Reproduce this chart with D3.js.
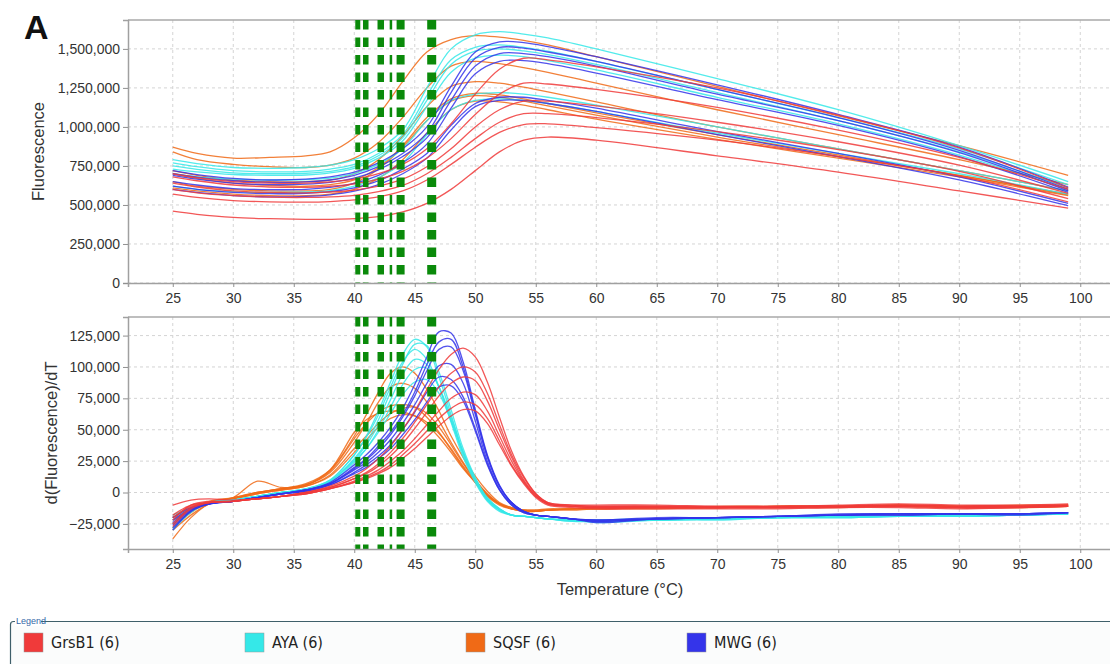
<!DOCTYPE html>
<html>
<head>
<meta charset="utf-8">
<script src="https://cdn.jsdelivr.net/npm/d3@7"></script>
<style>
  body { margin: 0; background: #fff; }
  svg { display: block; font-family: "Liberation Sans", Arial, sans-serif; }
</style>
</head>
<body>
<script>
var tempFluor = [25, 27, 30, 33, 36, 38, 40, 42, 44, 46, 48, 50, 52, 54, 56, 60, 70, 80, 90, 99];
var tempDeriv = [25, 26.5, 28, 30, 32, 34, 36, 38, 40, 41, 42, 43, 44, 45, 46, 47, 48, 49, 50, 51, 52, 53, 54, 55, 56, 58, 60, 65, 70, 75, 80, 85, 90, 95, 99];

// fluorescence, thousands
var sqsfFluor = [
  [870, 830, 800, 805, 815, 840, 930, 1080, 1290, 1480, 1560, 1585, 1575, 1555, 1525, 1450, 1260, 1070, 880, 690],
  [840, 790, 760, 745, 740, 755, 800, 900, 1060, 1250, 1390, 1420, 1405, 1380, 1350, 1280, 1110, 950, 790, 630],
  [720, 690, 660, 650, 650, 660, 700, 790, 940, 1130, 1260, 1290, 1280, 1255, 1225, 1160, 1000, 860, 720, 590],
  [700, 670, 640, 625, 620, 630, 660, 740, 880, 1060, 1180, 1215, 1205, 1180, 1150, 1090, 950, 820, 690, 570],
  [650, 620, 600, 590, 590, 600, 640, 730, 870, 1040, 1165, 1200, 1190, 1165, 1135, 1075, 935, 810, 690, 565],
  [610, 590, 570, 560, 560, 570, 600, 670, 790, 960, 1110, 1165, 1160, 1140, 1110, 1050, 920, 800, 680, 560]
];
var ayaFluor = [
  [790, 765, 740, 735, 740, 755, 790, 860, 980, 1250, 1500, 1590, 1610, 1595, 1570, 1500, 1310, 1110, 880, 650],
  [770, 745, 720, 712, 715, 730, 760, 830, 950, 1200, 1430, 1510, 1525, 1510, 1485, 1420, 1240, 1060, 860, 630],
  [750, 728, 705, 700, 703, 715, 745, 815, 930, 1170, 1400, 1485, 1500, 1487, 1463, 1400, 1220, 1040, 840, 610],
  [730, 712, 695, 690, 692, 705, 735, 800, 910, 1130, 1350, 1440, 1460, 1450, 1425, 1365, 1190, 1020, 820, 600],
  [700, 680, 665, 660, 662, 672, 700, 760, 860, 1040, 1170, 1210, 1220, 1210, 1190, 1140, 1000, 860, 720, 590],
  [620, 600, 585, 580, 583, 592, 620, 675, 770, 950, 1110, 1170, 1180, 1170, 1150, 1100, 960, 830, 700, 570]
];
var mwgFluor = [
  [720, 695, 670, 660, 665, 680, 710, 770, 860, 1000, 1260, 1480, 1545, 1540, 1515, 1450, 1270, 1080, 870, 615],
  [700, 678, 655, 645, 648, 660, 690, 745, 830, 960, 1220, 1440, 1510, 1505, 1480, 1420, 1240, 1060, 850, 600],
  [690, 665, 640, 630, 633, 645, 672, 725, 810, 930, 1170, 1390, 1470, 1470, 1450, 1390, 1210, 1040, 835, 590],
  [650, 628, 605, 598, 600, 612, 638, 690, 770, 890, 1120, 1340, 1420, 1425, 1405, 1345, 1175, 1010, 810, 580],
  [620, 600, 580, 572, 575, 585, 610, 655, 730, 830, 1010, 1150, 1190, 1190, 1170, 1120, 970, 830, 680, 510],
  [600, 580, 560, 552, 555, 565, 588, 630, 700, 800, 980, 1130, 1170, 1170, 1150, 1100, 950, 810, 660, 495]
];
var grsb1Fluor = [
  [700, 675, 650, 640, 640, 648, 665, 700, 760, 860, 1020, 1210, 1370, 1440, 1430, 1385, 1250, 1075, 865, 610],
  [680, 655, 628, 615, 613, 620, 635, 665, 715, 800, 925, 1080, 1210, 1280, 1275, 1240, 1125, 980, 805, 600],
  [640, 615, 590, 580, 578, 583, 595, 620, 665, 745, 860, 1000, 1110, 1165, 1165, 1135, 1030, 905, 755, 575],
  [600, 578, 560, 550, 548, 552, 562, 585, 625, 700, 805, 925, 1030, 1085, 1085, 1060, 970, 855, 715, 540],
  [570, 548, 528, 520, 518, 522, 532, 552, 590, 660, 760, 870, 965, 1015, 1020, 995, 915, 810, 685, 520],
  [460, 440, 420, 412, 408, 408, 412, 425, 455, 510, 600, 720, 840, 915, 935, 915, 815, 710, 590, 480]
];

// d(fluorescence)/dT, thousands
var sqsfDeriv = [
  [-22, -15, -8, -4, 0, 3, 7, 18, 45, 62, 80, 95, 100, 95, 82, 65, 45, 28, 13, 1, -8, -12, -14, -15, -14, -13, -13, -12, -12, -11, -11, -10, -11, -11, -10],
  [-30, -18, -9, -4, 9, 4, 6, 16, 40, 55, 72, 84, 87, 83, 72, 57, 40, 24, 10, -1, -9, -13, -15, -15, -14, -13, -12, -12, -11, -11, -11, -10, -11, -10, -10],
  [-37, -20, -9, -5, 0, 3, 6, 17, 43, 55, 64, 69, 70, 68, 60, 48, 34, 20, 8, -3, -10, -13, -14, -14, -13, -13, -12, -11, -12, -11, -11, -10, -11, -11, -10],
  [-25, -14, -8, -5, -1, 2, 5, 14, 35, 45, 55, 63, 67, 68, 63, 52, 38, 23, 10, -2, -9, -13, -15, -15, -14, -13, -13, -12, -12, -12, -11, -11, -11, -12, -11],
  [-20, -12, -7, -4, 0, 3, 6, 18, 48, 58, 63, 65, 64, 61, 54, 44, 32, 19, 8, -3, -9, -12, -14, -14, -14, -13, -12, -12, -12, -11, -11, -11, -12, -11, -11],
  [-28, -16, -8, -5, -1, 2, 5, 13, 32, 42, 52, 59, 62, 61, 56, 47, 35, 21, 9, -2, -9, -13, -14, -15, -14, -14, -13, -13, -12, -12, -12, -11, -12, -12, -11]
];
var ayaDeriv = [
  [-28, -15, -8, -6, -3, 0, 3, 10, 30, 45, 65, 88, 110, 122, 116, 92, 62, 32, 10, -6, -14, -18, -19, -20, -21, -23, -22, -21, -22, -20, -20, -19, -19, -18, -17],
  [-22, -13, -8, -6, -3, 0, 2, 9, 27, 40, 58, 80, 102, 118, 117, 96, 66, 35, 12, -5, -13, -18, -19, -20, -21, -23, -23, -21, -21, -20, -19, -19, -18, -18, -17],
  [-18, -12, -8, -6, -3, 0, 3, 10, 30, 44, 62, 84, 104, 114, 106, 84, 56, 28, 8, -7, -15, -18, -19, -20, -21, -22, -23, -22, -21, -20, -19, -19, -19, -18, -17],
  [-25, -14, -8, -6, -3, 0, 2, 9, 26, 38, 54, 74, 94, 106, 102, 84, 58, 30, 9, -6, -14, -18, -19, -20, -21, -22, -24, -22, -21, -20, -19, -19, -18, -18, -17],
  [-20, -13, -8, -6, -3, 0, 2, 8, 24, 35, 50, 68, 86, 98, 99, 84, 60, 32, 11, -5, -13, -18, -19, -20, -21, -22, -22, -22, -21, -20, -20, -19, -19, -18, -17],
  [-30, -16, -8, -6, -3, 0, 2, 9, 25, 35, 48, 63, 78, 88, 90, 79, 57, 32, 11, -4, -13, -18, -19, -20, -21, -22, -23, -22, -21, -20, -20, -19, -19, -18, -17]
];
var mwgDeriv = [
  [-26, -14, -9, -7, -4, -1, 2, 8, 22, 30, 40, 52, 67, 86, 108, 128, 127, 104, 66, 30, 6, -8, -15, -18, -19, -21, -24, -21, -20, -19, -17, -17, -17, -17, -16],
  [-22, -13, -9, -7, -4, -1, 2, 7, 20, 27, 37, 48, 62, 80, 102, 120, 122, 100, 64, 29, 5, -8, -15, -18, -19, -21, -23, -21, -20, -19, -18, -17, -17, -17, -16],
  [-28, -15, -9, -7, -4, -1, 2, 7, 19, 26, 35, 46, 60, 77, 97, 114, 116, 97, 62, 28, 5, -8, -15, -18, -19, -21, -23, -21, -20, -19, -18, -17, -17, -17, -16],
  [-20, -12, -9, -7, -4, -1, 2, 7, 18, 24, 32, 42, 55, 70, 87, 101, 102, 87, 57, 25, 3, -9, -15, -18, -19, -21, -22, -21, -20, -19, -18, -17, -17, -18, -16],
  [-24, -13, -9, -7, -4, -1, 1, 6, 16, 22, 29, 38, 50, 64, 80, 92, 90, 76, 51, 23, 2, -10, -16, -18, -19, -21, -22, -20, -20, -19, -18, -18, -17, -17, -16],
  [-30, -15, -9, -7, -4, -1, 1, 6, 15, 20, 27, 35, 46, 58, 72, 84, 85, 73, 49, 22, 2, -10, -16, -18, -19, -21, -22, -21, -20, -19, -18, -18, -17, -17, -16]
];
var grsb1Deriv = [
  [-10, -6, -5, -6, -5, -3, 0, 5, 13, 19, 27, 37, 50, 65, 82, 98, 110, 115, 108, 88, 60, 33, 13, -1, -8, -10, -10, -10, -11, -11, -10, -9, -10, -10, -9],
  [-22, -10, -7, -7, -5, -3, 0, 4, 11, 16, 23, 32, 43, 56, 70, 84, 95, 100, 96, 79, 54, 30, 12, -1, -8, -10, -11, -11, -11, -11, -11, -10, -11, -11, -10],
  [-25, -12, -8, -7, -5, -3, 0, 4, 11, 15, 21, 29, 39, 51, 64, 77, 87, 92, 89, 73, 50, 28, 10, -2, -9, -11, -11, -11, -12, -11, -11, -10, -11, -11, -10],
  [-20, -11, -8, -7, -5, -3, -1, 3, 9, 13, 18, 25, 33, 43, 54, 65, 75, 80, 78, 65, 45, 25, 9, -3, -9, -11, -12, -12, -12, -12, -11, -11, -12, -11, -11],
  [-27, -13, -8, -7, -5, -3, -1, 3, 8, 12, 16, 22, 30, 39, 49, 59, 67, 72, 70, 59, 41, 22, 8, -3, -9, -11, -12, -12, -12, -12, -12, -11, -12, -12, -11],
  [-18, -10, -8, -7, -5, -3, -1, 3, 8, 11, 15, 20, 27, 35, 44, 53, 61, 66, 65, 55, 38, 21, 7, -4, -10, -12, -13, -13, -13, -13, -12, -12, -13, -12, -11]
];

var groupNames = ["GrsB1", "AYA", "SQSF", "MWG"];
var groupCounts = [6, 6, 6, 6];
// melt-peak markers (green dashed lines), °C
var markerTemps = [40.29, 40.95, 42.19, 43.03, 43.83, 46.40];
var xTicks = [25, 30, 35, 40, 45, 50, 55, 60, 65, 70, 75, 80, 85, 90, 95, 100];
var fluorTicks = [0, 250, 500, 750, 1000, 1250, 1500];
var derivTicks = [-25, 0, 25, 50, 75, 100, 125];

// styles
var colors = { GrsB1: "#f03a3a", AYA: "#35e8e8", SQSF: "#f06a16", MWG: "#3434ea" };
var markerWidths = [5, 5.5, 6.5, 2.5, 8, 9];
var greenLine = "#0a8a0a";

var fluorByGroup = { GrsB1: grsb1Fluor, AYA: ayaFluor, SQSF: sqsfFluor, MWG: mwgFluor };
var derivByGroup = { GrsB1: grsb1Deriv, AYA: ayaDeriv, SQSF: sqsfDeriv, MWG: mwgDeriv };
var drawOrder = ["SQSF", "AYA", "MWG", "GrsB1"];

var W = 1110, H = 664;
var svg = d3.select("body").append("svg").attr("width", W).attr("height", H);

var x = d3.scaleLinear().domain([21.3, 102.5]).range([128, 1110.5]);

function panel(top, bottom, yDomain, ticks, series, temps, title, titleX) {
  var y = d3.scaleLinear().domain(yDomain).range([bottom, top]);
  var g = svg.append("g");

  // grid
  g.append("g").selectAll("line").data(xTicks).join("line")
    .attr("x1", function(d) { return x(d); }).attr("x2", function(d) { return x(d); })
    .attr("y1", top).attr("y2", bottom)
    .attr("stroke", "#d4d4d4").attr("stroke-dasharray", "3,3");
  g.append("g").selectAll("line").data(ticks).join("line")
    .attr("x1", 128).attr("x2", W)
    .attr("y1", function(d) { return y(d); }).attr("y2", function(d) { return y(d); })
    .attr("stroke", "#d4d4d4").attr("stroke-dasharray", "3,3");

  // frame
  g.append("line").attr("x1", 128).attr("x2", W).attr("y1", top).attr("y2", top)
    .attr("stroke", "#a8a8a8").attr("stroke-width", 1.5);

  // curves
  var line = d3.line()
    .x(function(d) { return x(d[0]); })
    .y(function(d) { return y(d[1]); })
    .curve(d3.curveCatmullRom.alpha(0.5));
  var curves = g.append("g").attr("fill", "none").attr("stroke-width", 1.3);
  drawOrder.forEach(function(name) {
    series[name].forEach(function(vals) {
      curves.append("path")
        .attr("d", line(vals.map(function(v, i) { return [temps[i], v]; })))
        .attr("stroke", colors[name])
        .attr("stroke-opacity", 0.85);
    });
  });

  // melt markers
  g.append("g").selectAll("line").data(markerTemps).join("line")
    .attr("x1", function(d) { return x(d); }).attr("x2", function(d) { return x(d); })
    .attr("y1", top).attr("y2", bottom)
    .attr("stroke", greenLine)
    .attr("stroke-width", function(d, i) { return markerWidths[i]; })
    .attr("stroke-dasharray", "9.5,8");

  // axes
  var yAxis = g.append("g").attr("transform", "translate(128,0)")
    .call(d3.axisLeft(y).tickValues(ticks).tickSize(5).tickPadding(3)
      .tickFormat(function(d) { return d3.format(",")(d * 1000); }));
  var xAxis = g.append("g").attr("transform", "translate(0," + bottom + ")")
    .call(d3.axisBottom(x).tickValues(xTicks).tickSize(4).tickPadding(6));
  [yAxis, xAxis].forEach(function(a) {
    a.select(".domain").attr("stroke", "#a0a0a0").attr("stroke-width", 1.5);
    a.selectAll(".tick line").attr("stroke", "#909090");
    a.selectAll("text").attr("font-size", 14).attr("fill", "#333")
      .attr("font-family", "'Liberation Sans', Arial, sans-serif");
  });

  svg.append("text")
    .attr("transform", "translate(" + titleX + "," + ((top + bottom) / 2) + ") rotate(-90)")
    .attr("text-anchor", "middle")
    .attr("font-size", 16.5).attr("fill", "#333")
    .text(title);
}

panel(20, 283, [0, 1685], fluorTicks, fluorByGroup, tempFluor, "Fluorescence", 44);
panel(317, 549, [-45, 139.8], derivTicks, derivByGroup, tempDeriv, "d(Fluorescence)/dT", 57);

svg.append("text").attr("x", 620).attr("y", 595).attr("text-anchor", "middle")
  .attr("font-size", 16.5).attr("fill", "#333").text("Temperature (°C)");

svg.append("text").attr("x", 24).attr("y", 39)
  .attr("font-size", 34).attr("font-weight", "bold").attr("fill", "#111").text("A");

// legend
var leg = svg.append("g");
leg.append("rect").attr("x", 10.5).attr("y", 621.5).attr("width", W).attr("height", 60)
  .attr("rx", 3).attr("fill", "#fbfcfc").attr("stroke", "#3f5f6a").attr("stroke-width", 1.2);
leg.append("rect").attr("x", 15).attr("y", 616).attr("width", 26).attr("height", 10).attr("fill", "#fff");
leg.append("text").attr("x", 16).attr("y", 624).attr("font-size", 9).attr("fill", "#3468a8").text("Legend");
var items = leg.selectAll("g.item").data(groupNames).join("g").attr("class", "item")
  .attr("transform", function(d, i) { return "translate(" + (24 + i * 221) + ",633)"; });
items.append("rect").attr("width", 19).attr("height", 19)
  .attr("fill", function(d) { return colors[d]; }).attr("stroke", "#999").attr("stroke-width", 0.5);
items.append("text").attr("x", 27).attr("y", 15).attr("font-size", 16).attr("fill", "#222")
  .attr("font-family", "'DejaVu Sans Condensed', 'Liberation Sans', sans-serif")
  .text(function(d, i) { return d + " (" + groupCounts[i] + ")"; });
</script>
</body>
</html>
